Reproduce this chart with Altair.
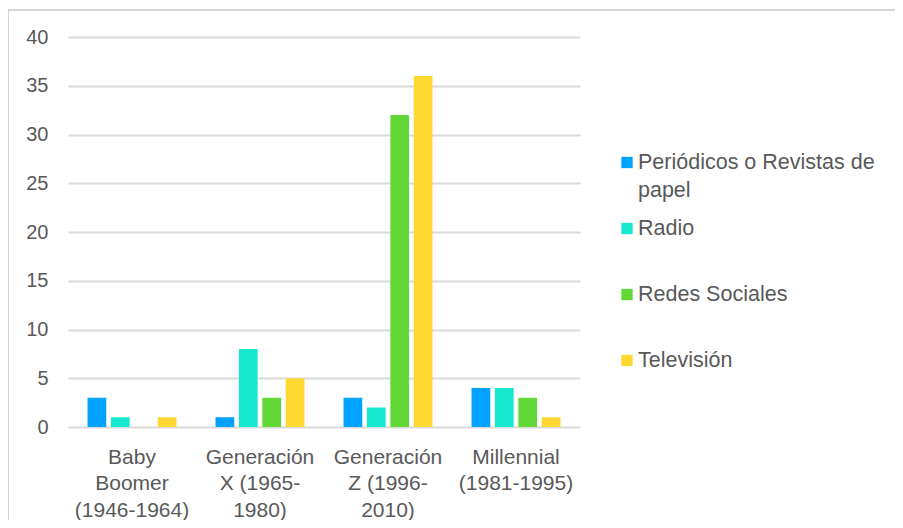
import altair as alt
import pandas as pd

generations = [
    "Baby|Boomer|(1946-1964)",
    "Generación|X (1965-|1980)",
    "Generación|Z (1996-|2010)",
    "Millennial|(1981-1995)",
]
media = ["Periódicos o Revistas de|papel", "Radio", "Redes Sociales", "Televisión"]
periodicos = [3, 1, 3, 4]
radio = [1, 8, 2, 4]
redes = [0, 3, 32, 3]
television = [1, 5, 36, 1]
colors = ["#00A2FF", "#16E7CF", "#61D836", "#FFD932"]
y_ticks = [0, 5, 10, 15, 20, 25, 30, 35, 40]

rows = []
for series_name, vals in zip(media, [periodicos, radio, redes, television]):
    for g, v in zip(generations, vals):
        rows.append({"gen": g, "medio": series_name, "valor": v})
df = pd.DataFrame(rows)
legend_df = pd.DataFrame({"medio": media})

FONT = "Liberation Sans"
TXT = "#595959"
color_scale = alt.Scale(domain=media, range=colors)

bars = alt.Chart(df).mark_bar().encode(
    x=alt.X(
        "gen:N",
        sort=generations,
        title=None,
        scale=alt.Scale(paddingInner=0.305, paddingOuter=0.1525),
        axis=alt.Axis(
            labelAngle=0,
            domain=False,
            ticks=False,
            labelPadding=19,
            labelFontSize=21,
            labelLineHeight=26.5,
            labelBaseline="top",
            labelColor=TXT,
            labelFont=FONT,
            labelExpr="split(datum.label, '|')",
        ),
    ),
    xOffset=alt.XOffset("medio:N", sort=media, scale=alt.Scale(paddingInner=0.2, paddingOuter=0)),
    y=alt.Y(
        "valor:Q",
        title=None,
        scale=alt.Scale(domain=[0, 40], nice=False),
        axis=alt.Axis(
            values=y_ticks,
            domain=False,
            ticks=False,
            labelPadding=20,
            labelFontSize=20,
            labelColor=TXT,
            labelFont=FONT,
            gridColor="#dadada",
            gridWidth=2,
        ),
    ),
    color=alt.Color("medio:N", sort=media, scale=color_scale, legend=None),
)

legend_y = alt.Y(
    "medio:N",
    sort=media,
    axis=None,
    scale=alt.Scale(type="point", domain=media, range=[125.5, 323.5], padding=0),
)

legend_sym = alt.Chart(legend_df).mark_square(size=128, opacity=1).encode(
    x=alt.value(559),
    y=legend_y,
    color=alt.Color("medio:N", sort=media, scale=color_scale, legend=None),
)

legend_txt = alt.Chart(legend_df).transform_calculate(
    lines="split(datum.medio, '|')"
).mark_text(
    align="left", baseline="middle", fontSize=21.5, font=FONT, color=TXT, lineHeight=28
).encode(
    x=alt.value(570),
    y=legend_y,
    text=alt.Text("lines:N"),
)

frame = alt.Chart(pd.DataFrame({"a": [0]})).mark_rect(
    fill=None, stroke="#c8c8c8", strokeWidth=1.5
).encode(
    x=alt.value(-60), x2=alt.value(840), y=alt.value(-27), y2=alt.value(520)
)

chart = alt.layer(frame, bars, legend_sym, legend_txt).resolve_scale(
    y="independent"
).properties(
    width=512,
    height=390,
    autosize=alt.AutoSizeParams(type="none"),
    padding={"left": 60, "top": 29, "right": 315, "bottom": 93},
).configure_view(stroke=None)

chart.save("out.html", embed_options={"renderer": "svg", "actions": False})
